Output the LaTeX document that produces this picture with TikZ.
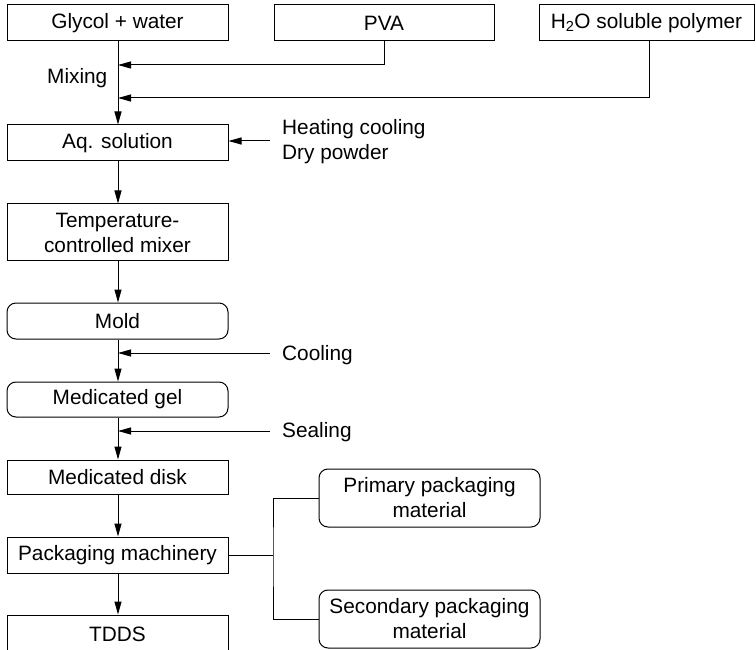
\documentclass[tikz,border=0pt]{standalone}
\usepackage{fontspec}
\setmainfont{Liberation Sans}
\usetikzlibrary{arrows.meta}
\begin{document}
\begin{tikzpicture}[x=1pt,y=-1pt,
  every node/.style={font=\fontsize{20.8}{25}\selectfont, inner sep=0pt},
  box/.style={draw, line width=1pt, minimum width=221pt, minimum height=36pt, align=center},
  rbox/.style={box, rounded corners=9pt},
  lbl/.style={anchor=base west},
  flow/.style={line width=1pt, -{Triangle[length=13pt,width=7pt]}},
  link/.style={line width=1pt}]
\useasboundingbox (0,0) rectangle (756,650);

% raw materials
\node[box] (glycol) at (117.5,23) {Glycol + water};
\node[box, minimum width=220pt] (pva) at (384,23) {PVA};
\node[box, minimum width=215pt] (h2o) at (646.5,23) {H\textsubscript{2}O soluble polymer};

% main process line
\node[box] (aq) at (117.5,143) {Aq. solution};
\node[box, minimum height=57pt] (mixer) at (117.5,232.5) {Temperature-\\controlled mixer};
\node[rbox] (mold) at (117.5,321) {Mold};
\node[rbox, minimum height=35pt] (gel) at (117.5,399.5) {Medicated gel};
\node[box, minimum height=34pt] (disk) at (117.5,477) {Medicated disk};
\node[box] (pack) at (117.5,555) {Packaging machinery};
\node[box, minimum height=38pt] (tdds) at (117.5,634) {TDDS};

% packaging materials
\node[rbox, minimum height=58pt] (prim) at (429.5,498) {Primary packaging\\material};
\node[rbox, minimum height=58pt] (sec) at (429.5,619) {Secondary packaging\\material};

% side labels
\node[lbl] (mixing) at (47,84) {Mixing};
\node[lbl, align=left, anchor=north west] (heat) at (282,119) {Heating cooling\\Dry powder};
\node[lbl] (cool) at (282,360) {Cooling};
\node[lbl] (seal) at (282,437) {Sealing};

% junction points on the spine
\coordinate (jpva) at (118,65);
\coordinate (jh2o) at (118,98);
\coordinate (jcool) at (118,353);
\coordinate (jseal) at (118,431);
\coordinate (heatend) at (270,141);
\coordinate (coolend) at (270,353);
\coordinate (sealend) at (270,431);
\coordinate (branch) at (273,555);

% connectors
\draw[flow] (glycol.south -| jpva) -- (aq.north -| jpva);
\draw[flow] (pva.south) ++(0,0) coordinate (pvab) -- (pvab |- jpva) -- (jpva);
\draw[flow] (h2o.south -| 649,0) coordinate (h2ob) -- (h2ob |- jh2o) -- (jh2o);
\draw[flow] (heatend) -- (aq.east |- heatend);
\draw[flow] (aq.south -| jpva) -- (mixer.north -| jpva);
\draw[flow] (mixer.south -| jpva) -- (mold.north -| jpva);
\draw[flow] (mold.south -| jpva) -- (gel.north -| jpva);
\draw[flow] (coolend) -- (jcool);
\draw[flow] (gel.south -| jpva) -- (disk.north -| jpva);
\draw[flow] (sealend) -- (jseal);
\draw[flow] (disk.south -| jpva) -- (pack.north -| jpva);
\draw[flow] (pack.south -| jpva) -- (tdds.north -| jpva);
\draw[link] (pack.east) -- (branch);
\draw[link] (prim.west) -| (branch) |- (sec.west);
\end{tikzpicture}
\end{document}
